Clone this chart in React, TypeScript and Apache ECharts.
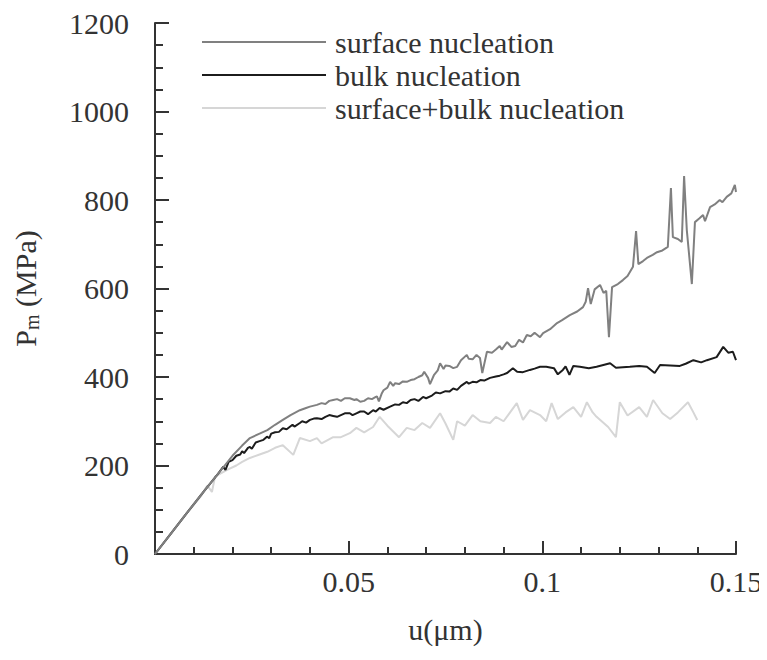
import React, { useEffect, useRef } from "react";
import * as echarts from "echarts";

const seriesNames = ["surface nucleation", "bulk nucleation", "surface+bulk nucleation"];

const uSurface = [0, 0.004, 0.008, 0.012, 0.016, 0.018, 0.02, 0.0225, 0.0245, 0.027, 0.029, 0.031, 0.033, 0.035, 0.0374, 0.039, 0.04, 0.0418, 0.043, 0.044, 0.045, 0.046, 0.047, 0.048, 0.049, 0.0503, 0.0515, 0.052, 0.053, 0.054, 0.055, 0.056, 0.057, 0.0573, 0.0578, 0.0585, 0.059, 0.06, 0.0607, 0.0615, 0.062, 0.063, 0.064, 0.065, 0.066, 0.067, 0.068, 0.069, 0.0695, 0.0705, 0.071, 0.072, 0.073, 0.0736, 0.0745, 0.075, 0.076, 0.077, 0.078, 0.079, 0.0805, 0.081, 0.082, 0.083, 0.0839, 0.0845, 0.0857, 0.087, 0.088, 0.089, 0.0895, 0.0909, 0.092, 0.093, 0.094, 0.095, 0.096, 0.097, 0.098, 0.0994, 0.1002, 0.102, 0.1038, 0.105, 0.1071, 0.109, 0.1105, 0.1112, 0.1118, 0.1125, 0.1135, 0.1149, 0.1158, 0.1165, 0.1172, 0.118, 0.1195, 0.1208, 0.122, 0.1234, 0.1242, 0.1248, 0.126, 0.127, 0.1285, 0.1296, 0.131, 0.1324, 0.1332, 0.1337, 0.135, 0.136, 0.1366, 0.1373, 0.1386, 0.1394, 0.1405, 0.1415, 0.142, 0.1433, 0.1445, 0.1458, 0.1465, 0.1476, 0.1488, 0.1497, 0.15];
const pSurface = [0, 45, 90, 135, 178, 200, 222, 245, 262, 272, 280, 292, 303, 314, 325, 330, 333, 337, 341, 339, 346, 348, 350, 346, 352, 352, 348, 350, 344, 346, 352, 350, 355, 356, 345, 362, 370, 376, 389, 380, 386, 384, 390, 389, 393, 395, 400, 404, 412, 398, 384, 404, 415, 431, 418, 426, 425, 420, 423, 438, 450, 441, 440, 450, 443, 409, 457, 455, 462, 470, 462, 479, 468, 470, 484, 478, 495, 492, 500, 490, 499, 508, 522, 528, 540, 548, 558, 570, 601, 565, 598, 608, 590, 595, 490, 603, 610, 619, 628, 649, 730, 655, 662, 669, 676, 682, 686, 694, 827, 716, 712, 705, 854, 732, 610, 750, 758, 766, 752, 784, 790, 800, 795, 807, 815, 834, 818];

const uBulk = [0, 0.004, 0.008, 0.012, 0.016, 0.0176, 0.0182, 0.019, 0.02, 0.021, 0.022, 0.0225, 0.023, 0.024, 0.0245, 0.025, 0.026, 0.027, 0.028, 0.0289, 0.0295, 0.03, 0.031, 0.032, 0.033, 0.034, 0.0355, 0.036, 0.0374, 0.038, 0.039, 0.04, 0.041, 0.0418, 0.043, 0.044, 0.045, 0.046, 0.047, 0.048, 0.049, 0.0503, 0.051, 0.052, 0.053, 0.054, 0.055, 0.0563, 0.057, 0.058, 0.059, 0.0607, 0.062, 0.063, 0.064, 0.065, 0.066, 0.067, 0.068, 0.0692, 0.07, 0.0715, 0.0725, 0.0736, 0.075, 0.076, 0.077, 0.078, 0.079, 0.0805, 0.081, 0.082, 0.083, 0.084, 0.085, 0.0865, 0.088, 0.089, 0.09, 0.0909, 0.0924, 0.0935, 0.095, 0.0968, 0.098, 0.0994, 0.101, 0.103, 0.104, 0.1053, 0.106, 0.107, 0.108, 0.1097, 0.112, 0.114, 0.1175, 0.119, 0.1226, 0.125, 0.127, 0.129, 0.1304, 0.133, 0.1355, 0.137, 0.139, 0.141, 0.1425, 0.145, 0.1467, 0.148, 0.1492, 0.15];
const pBulk = [0, 45, 90, 135, 178, 197, 190, 208, 212, 222, 225, 232, 228, 240, 242, 238, 252, 255, 258, 265, 262, 272, 275, 276, 284, 282, 292, 288, 296, 300, 297, 303, 306, 307, 305, 310, 314, 312, 310, 314, 318, 318, 314, 318, 322, 322, 316, 325, 322, 330, 326, 333, 338, 337, 343, 341, 348, 350, 346, 355, 352, 358, 365, 363, 368, 367, 374, 371, 380, 389, 385, 389, 388, 393, 392, 398, 401, 403, 406, 409, 420, 412, 411, 416, 419, 423, 423, 420, 406, 416, 424, 405, 425, 423, 420, 423, 431, 421, 423, 425, 423, 409, 427, 426, 425, 430, 438, 433, 438, 445, 468, 455, 457, 438];

const uBoth = [0, 0.004, 0.008, 0.012, 0.0135, 0.0147, 0.0155, 0.0186, 0.021, 0.0225, 0.0245, 0.027, 0.029, 0.031, 0.033, 0.0357, 0.0374, 0.04, 0.0418, 0.043, 0.046, 0.048, 0.0503, 0.052, 0.054, 0.0563, 0.058, 0.06, 0.063, 0.065, 0.067, 0.069, 0.071, 0.0736, 0.075, 0.077, 0.078, 0.08, 0.082, 0.084, 0.0865, 0.088, 0.09, 0.0934, 0.095, 0.0968, 0.0994, 0.101, 0.1024, 0.104, 0.106, 0.108, 0.11, 0.1115, 0.113, 0.114, 0.117, 0.119, 0.12, 0.122, 0.125, 0.127, 0.1286, 0.131, 0.133, 0.135, 0.1376, 0.139, 0.14];
const pBoth = [0, 45, 90, 132, 155, 140, 175, 190, 200, 208, 217, 225, 231, 240, 246, 224, 262, 255, 262, 250, 264, 264, 273, 285, 275, 287, 310, 290, 264, 285, 280, 296, 285, 318, 295, 258, 300, 290, 314, 300, 296, 310, 300, 341, 303, 325, 314, 300, 341, 305, 320, 332, 310, 343, 320, 310, 287, 264, 343, 313, 332, 310, 348, 318, 305, 320, 343, 320, 303];

const xMin = 0, xMax = 0.15, xInterval = 0.05;
const yMin = 0, yMax = 1200, yInterval = 200;

const colors = ["#808080", "#1c1c1c", "#d6d6d6"];
const FONT = "Liberation Serif";

function pairs(u: number[], p: number[]) {
  return u.map((x, i) => [x, p[i]]);
}

export default function App() {
  const ref = useRef<HTMLDivElement>(null);
  useEffect(() => {
    if (!ref.current) return;
    const chart = echarts.init(ref.current, null, { renderer: "svg" });
    const axisLine = { show: true, lineStyle: { color: "#333", width: 2 } };
    chart.setOption({
      animation: false,
      backgroundColor: "#fff",
      textStyle: { fontFamily: FONT },
      grid: { left: 147, right: 31, top: 15, bottom: 98, containLabel: false, outerBoundsMode: "none" },
      legend: {
        orient: "vertical",
        left: 189,
        top: 14,
        itemWidth: 124,
        itemHeight: 2,
        itemGap: 3,
        icon: "rect",
        textStyle: { fontFamily: FONT, fontSize: 30, color: "#333", lineHeight: 30, padding: [0, 0, 0, 4] },
        data: seriesNames,
      },
      xAxis: {
        type: "value",
        min: xMin,
        max: xMax,
        interval: xInterval,
        splitLine: { show: false },
        axisLine,
        axisTick: { show: true, inside: true, length: 13, lineStyle: { color: "#333", width: 2 } },
        minorTick: { show: true, splitNumber: 5, length: 7, lineStyle: { color: "#333", width: 2 } },
        axisLabel: {
          fontFamily: FONT,
          fontSize: 30,
          color: "#333",
          margin: 12,
          formatter: (v: number) => (v === 0 ? "" : String(parseFloat(v.toFixed(2)))),
        },
        name: "u(μm)",
        nameLocation: "middle",
        nameGap: 60,
        nameTextStyle: { fontFamily: FONT, fontSize: 30, color: "#333" },
      },
      yAxis: {
        type: "value",
        min: yMin,
        max: yMax,
        interval: yInterval,
        splitLine: { show: false },
        axisLine,
        axisTick: { show: true, inside: true, length: 14, lineStyle: { color: "#333", width: 2 } },
        minorTick: { show: true, splitNumber: 4, length: 8, lineStyle: { color: "#333", width: 2 } },
        axisLabel: { fontFamily: FONT, fontSize: 30, color: "#333", margin: 26, formatter: (v: number) => String(v) },
        name: "{a|P}{sub|m}{a| (MPa)}",
        nameLocation: "middle",
        nameGap: 113,
        nameRotate: 90,
        nameTextStyle: {
          fontFamily: FONT,
          color: "#333",
          rich: {
            a: { fontFamily: FONT, fontSize: 30, color: "#333", lineHeight: 34, verticalAlign: "middle" },
            sub: { fontFamily: FONT, fontSize: 20, color: "#333", lineHeight: 20, verticalAlign: "bottom" },
          },
        },
      },
      series: [
        { name: seriesNames[2], data: pairs(uBoth, pBoth), color: colors[2] },
        { name: seriesNames[1], data: pairs(uBulk, pBulk), color: colors[1] },
        { name: seriesNames[0], data: pairs(uSurface, pSurface), color: colors[0] },
      ].map((s) => ({
        ...s,
        type: "line",
        showSymbol: false,
        symbol: "none",
        lineStyle: { width: 2, color: s.color },
        itemStyle: { color: s.color },
      })),
    });
    return () => chart.dispose();
  }, []);
  return <div ref={ref} style={{ width: 759, height: 644 }} />;
}
